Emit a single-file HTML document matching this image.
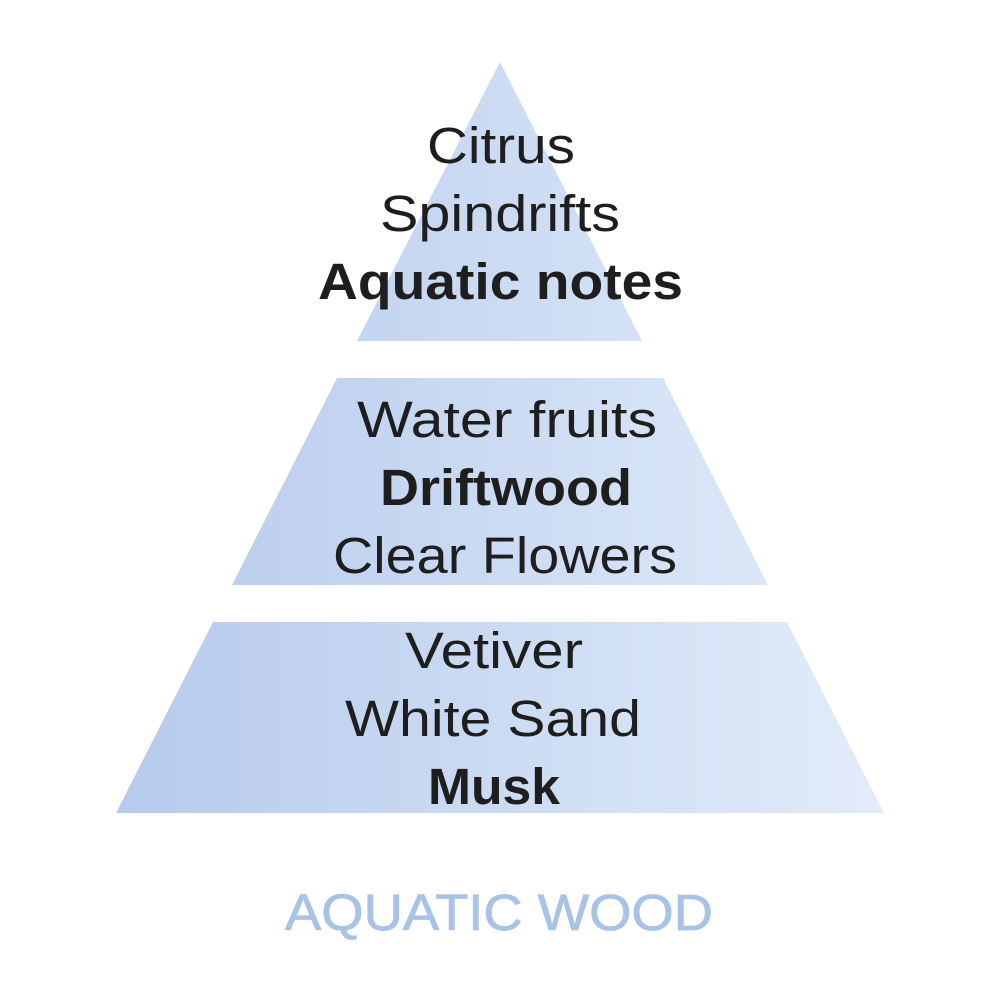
<!DOCTYPE html>
<html><head><meta charset="utf-8"><style>html,body{margin:0;padding:0;background:#fff}svg{display:block}</style></head>
<body>
<svg width="1000" height="1000" viewBox="0 0 1000 1000" xmlns="http://www.w3.org/2000/svg">
<defs>
<linearGradient id="g" gradientUnits="userSpaceOnUse" x1="116" y1="0" x2="884" y2="0">
<stop offset="0" stop-color="#b6caec"/><stop offset="1" stop-color="#e2ecfa"/>
</linearGradient>
</defs>
<polygon points="500,62 642,341 357,341" fill="url(#g)"/>
<polygon points="337,378 663,378 768,585 232,585" fill="url(#g)"/>
<polygon points="213,622 787,622 884,813 116,813" fill="url(#g)"/>
<g font-family="Liberation Sans, sans-serif" font-size="51" fill="#1e1e1e">
<text x="427" y="163" textLength="148" lengthAdjust="spacingAndGlyphs">Citrus</text>
<text x="380" y="231" textLength="240" lengthAdjust="spacingAndGlyphs">Spindrifts</text>
<text x="318" y="299" textLength="365" lengthAdjust="spacingAndGlyphs" font-weight="bold">Aquatic notes</text>
<text x="357" y="437" textLength="300" lengthAdjust="spacingAndGlyphs">Water fruits</text>
<text x="380" y="505" textLength="252" lengthAdjust="spacingAndGlyphs" font-weight="bold">Driftwood</text>
<text x="333" y="573" textLength="344" lengthAdjust="spacingAndGlyphs">Clear Flowers</text>
<text x="405" y="668" textLength="178" lengthAdjust="spacingAndGlyphs">Vetiver</text>
<text x="345" y="736" textLength="296" lengthAdjust="spacingAndGlyphs">White Sand</text>
<text x="428" y="804" textLength="132" lengthAdjust="spacingAndGlyphs" font-weight="bold">Musk</text>
</g>
<text x="285" y="930" font-family="Liberation Sans, sans-serif" font-size="51" fill="#a9c3e7" stroke="#a9c3e7" stroke-width="0.8" textLength="428" lengthAdjust="spacingAndGlyphs">AQUATIC WOOD</text>
</svg>
</body></html>
